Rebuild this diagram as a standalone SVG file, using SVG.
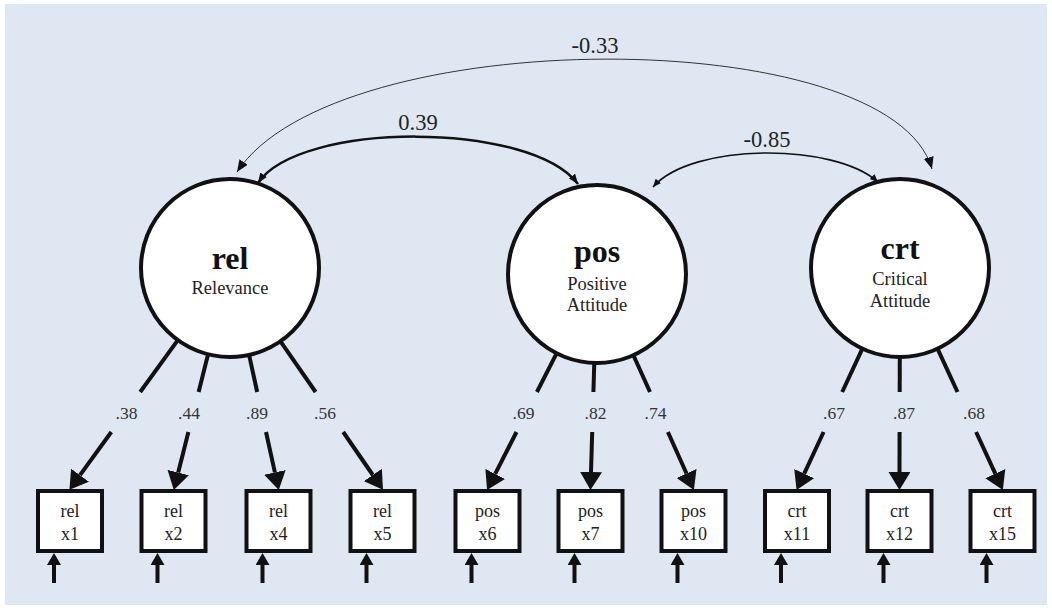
<svg xmlns="http://www.w3.org/2000/svg" width="1052" height="611" viewBox="0 0 1052 611" font-family="'Liberation Serif', 'DejaVu Serif', serif">
<defs>
<style>
.bg{fill:#dfe8f2}
.lat{fill:#fff;stroke:#111;stroke-width:4}
.box{fill:#fff;stroke:#111;stroke-width:4}
.ld{fill:none;stroke:#111;stroke-width:4}
.err{fill:none;stroke:#111;stroke-width:4}
.cv1{fill:none;stroke:#333;stroke-width:1}
.cv2{fill:none;stroke:#111;stroke-width:2.5}
.cv3{fill:none;stroke:#111;stroke-width:1.6}
text{font-family:'Liberation Serif', 'DejaVu Serif', serif;fill:#222;text-anchor:middle}
.nm{font-size:32px;font-weight:bold;fill:#111}
.sub{font-size:18.5px}
.bx{font-size:18px}
.lb{font-size:17.5px;fill:#333}
.cl{font-size:22.5px;fill:#222}
</style>
<marker id="ahL" viewBox="0 0 18 22" refX="0" refY="11" markerWidth="18" markerHeight="22" markerUnits="userSpaceOnUse" orient="auto"><path d="M0,0 L18,11 L0,22 z" fill="#111"/></marker>
<marker id="ahE" viewBox="0 0 12 14" refX="0" refY="7" markerWidth="12" markerHeight="14" markerUnits="userSpaceOnUse" orient="auto"><path d="M0,0 L12,7 L0,14 z" fill="#111"/></marker>
<marker id="ah1" viewBox="0 0 12 10" refX="12" refY="5" markerWidth="12" markerHeight="10" markerUnits="userSpaceOnUse" orient="auto-start-reverse"><path d="M0,0 L12,5 L0,10 z" fill="#111"/></marker>
<marker id="ah2" viewBox="0 0 10 8" refX="10" refY="4" markerWidth="10" markerHeight="8" markerUnits="userSpaceOnUse" orient="auto-start-reverse"><path d="M0,0 L10,4 L0,8 z" fill="#111"/></marker>
<marker id="ah3" viewBox="0 0 8 7" refX="8" refY="3.5" markerWidth="8" markerHeight="7" markerUnits="userSpaceOnUse" orient="auto-start-reverse"><path d="M0,0 L8,3.5 L0,7 z" fill="#111"/></marker>
</defs>
<rect class="bg" x="5" y="4" width="1042" height="601"/>

<g id="connectors">
<path class="cv1" d="M237,172 C336,22 890,22 932,169" marker-start="url(#ah1)" marker-end="url(#ah1)"/>
<path class="cv2" d="M258,183 C300,121 530,121 578,184" marker-start="url(#ah2)" marker-end="url(#ah2)"/>
<path class="cv3" d="M653,187 C692,142.5 834,142.5 878,182" marker-start="url(#ah3)" marker-end="url(#ah3)"/>
<line class="ld" x1="177.8" y1="340.1" x2="140.2" y2="392"/>
<line class="ld" x1="111.3" y1="432" x2="80" y2="475.2" marker-end="url(#ahL)"/>
<line class="ld" x1="208.1" y1="354.3" x2="198.6" y2="392"/>
<line class="ld" x1="188.4" y1="432" x2="178.2" y2="472.5" marker-end="url(#ahL)"/>
<line class="ld" x1="249.1" y1="354.9" x2="257.2" y2="392"/>
<line class="ld" x1="266" y1="432" x2="274.9" y2="472.4" marker-end="url(#ahL)"/>
<line class="ld" x1="280.5" y1="341.3" x2="315.6" y2="392"/>
<line class="ld" x1="343.2" y1="432" x2="372.8" y2="475" marker-end="url(#ahL)"/>
<line class="ld" x1="556.6" y1="353.3" x2="536.9" y2="392"/>
<line class="ld" x1="516.5" y1="432" x2="495.2" y2="473.9" marker-end="url(#ahL)"/>
<line class="ld" x1="594.3" y1="362" x2="593.4" y2="392"/>
<line class="ld" x1="592.2" y1="432" x2="591" y2="472" marker-end="url(#ahL)"/>
<line class="ld" x1="633.4" y1="355.2" x2="650" y2="392"/>
<line class="ld" x1="667.9" y1="432" x2="686.5" y2="473.5" marker-end="url(#ahL)"/>
<line class="ld" x1="862.4" y1="348.7" x2="842.2" y2="392"/>
<line class="ld" x1="823.6" y1="432" x2="804.2" y2="473.6" marker-end="url(#ahL)"/>
<line class="ld" x1="899.8" y1="356" x2="899.7" y2="392"/>
<line class="ld" x1="899.6" y1="432" x2="899.5" y2="472" marker-end="url(#ahL)"/>
<line class="ld" x1="937.5" y1="348.7" x2="957.5" y2="392"/>
<line class="ld" x1="976.1" y1="432" x2="995.3" y2="473.6" marker-end="url(#ahL)"/>
<line class="err" x1="54" y1="583" x2="54" y2="565" marker-end="url(#ahE)"/>
<line class="err" x1="157.5" y1="583" x2="157.5" y2="565" marker-end="url(#ahE)"/>
<line class="err" x1="262.5" y1="583" x2="262.5" y2="565" marker-end="url(#ahE)"/>
<line class="err" x1="366.5" y1="583" x2="366.5" y2="565" marker-end="url(#ahE)"/>
<line class="err" x1="471.5" y1="583" x2="471.5" y2="565" marker-end="url(#ahE)"/>
<line class="err" x1="574.5" y1="583" x2="574.5" y2="565" marker-end="url(#ahE)"/>
<line class="err" x1="677.5" y1="583" x2="677.5" y2="565" marker-end="url(#ahE)"/>
<line class="err" x1="781" y1="583" x2="781" y2="565" marker-end="url(#ahE)"/>
<line class="err" x1="883.5" y1="583" x2="883.5" y2="565" marker-end="url(#ahE)"/>
<line class="err" x1="986.5" y1="583" x2="986.5" y2="565" marker-end="url(#ahE)"/>
<text class="cl" x="595" y="53">-0.33</text>
<text class="cl" x="418" y="130">0.39</text>
<text class="cl" x="767" y="147">-0.85</text>
<text class="lb" x="126.5" y="419">.38</text>
<text class="lb" x="189" y="419">.44</text>
<text class="lb" x="257" y="419">.89</text>
<text class="lb" x="325" y="419">.56</text>
<text class="lb" x="523.5" y="419">.69</text>
<text class="lb" x="595.5" y="419">.82</text>
<text class="lb" x="655.5" y="419">.74</text>
<text class="lb" x="834" y="419">.67</text>
<text class="lb" x="904" y="419">.87</text>
<text class="lb" x="974" y="419">.68</text>
</g>

<g id="rel">
<circle class="lat" cx="230" cy="268" r="89"/>
<text class="nm" x="230" y="269">rel</text>
<text class="sub" x="230" y="294">Relevance</text>
</g>
<g id="pos">
<circle class="lat" cx="597" cy="274" r="89"/>
<text class="nm" x="597" y="262">pos</text>
<text class="sub" x="597" y="290">Positive</text>
<text class="sub" x="597" y="311">Attitude</text>
</g>
<g id="crt">
<circle class="lat" cx="900" cy="268" r="89"/>
<text class="nm" x="900" y="259">crt</text>
<text class="sub" x="900" y="285">Critical</text>
<text class="sub" x="900" y="307">Attitude</text>
</g>

<g id="rel_x1"><rect class="box" x="38" y="491" width="64" height="60"/><text class="bx" x="70" y="517">rel</text><text class="bx" x="70" y="540">x1</text></g>
<g id="rel_x2"><rect class="box" x="141.5" y="491" width="64" height="60"/><text class="bx" x="173.5" y="517">rel</text><text class="bx" x="173.5" y="540">x2</text></g>
<g id="rel_x4"><rect class="box" x="246.5" y="491" width="64" height="60"/><text class="bx" x="278.5" y="517">rel</text><text class="bx" x="278.5" y="540">x4</text></g>
<g id="rel_x5"><rect class="box" x="350.5" y="491" width="64" height="60"/><text class="bx" x="382.5" y="517">rel</text><text class="bx" x="382.5" y="540">x5</text></g>
<g id="pos_x6"><rect class="box" x="455.5" y="491" width="64" height="60"/><text class="bx" x="487.5" y="517">pos</text><text class="bx" x="487.5" y="540">x6</text></g>
<g id="pos_x7"><rect class="box" x="558.5" y="491" width="64" height="60"/><text class="bx" x="590.5" y="517">pos</text><text class="bx" x="590.5" y="540">x7</text></g>
<g id="pos_x10"><rect class="box" x="661.5" y="491" width="64" height="60"/><text class="bx" x="693.5" y="517">pos</text><text class="bx" x="693.5" y="540">x10</text></g>
<g id="crt_x11"><rect class="box" x="765" y="491" width="64" height="60"/><text class="bx" x="797" y="517">crt</text><text class="bx" x="797" y="540">x11</text></g>
<g id="crt_x12"><rect class="box" x="867.5" y="491" width="64" height="60"/><text class="bx" x="899.5" y="517">crt</text><text class="bx" x="899.5" y="540">x12</text></g>
<g id="crt_x15"><rect class="box" x="970.5" y="491" width="64" height="60"/><text class="bx" x="1002.5" y="517">crt</text><text class="bx" x="1002.5" y="540">x15</text></g>
</svg>
